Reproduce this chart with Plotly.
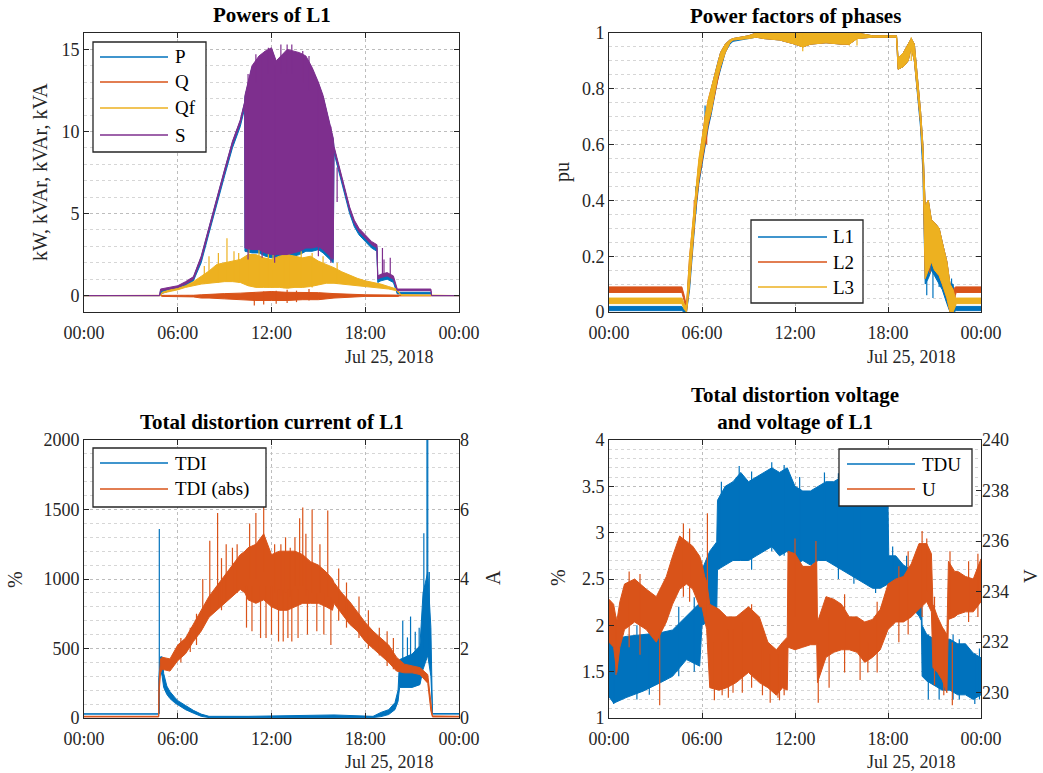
import pandas as pd
import plotly.graph_objects as go

# ---------------- data (hours of Jul 25, 2018; envelopes) -------------
# Panel 1: Powers of L1 (kW, kVAr, kVA)
S_t = [0, 4.84, 4.9, 5.5, 6.0, 6.5, 7.0, 7.5, 8.0, 8.5, 9.0, 9.5, 10.0, 10.28, 10.3, 10.75, 11.2, 11.6, 12.0, 12.3,
       13.0, 13.8, 14.2, 14.6, 15.0, 15.3, 15.6, 15.95, 16.0, 16.4, 16.8, 17.0, 17.3, 17.6, 18.0, 18.4, 18.75, 18.8,
       19.0, 19.4, 19.8, 20.05, 22.2, 22.25, 24]
S_lo = [0, 0, 0.3, 0.4, 0.5, 0.7, 1.0, 2.2, 4.0, 5.8, 7.5, 9.2, 10.5, 11.6, 2.9, 2.8, 2.8, 2.6, 2.5, 2.5,
        2.5, 2.7, 2.9, 2.9, 3.0, 2.8, 2.5, 2.2, 8.9, 7.4, 5.9, 5.2, 4.4, 3.9, 3.5, 3.1, 2.9, 1.0, 1.1, 1.2,
        1.0, 0.3, 0.3, 0, 0]
S_hi = [0, 0, 0.4, 0.5, 0.6, 0.85, 1.15, 2.4, 4.2, 6.0, 7.7, 9.4, 10.7, 11.8, 12.2, 14.0, 14.6, 14.9, 15.1, 14.3,
        15.0, 14.8, 14.6, 13.9, 13.0, 12.2, 11.0, 9.6, 9.1, 7.6, 6.1, 5.4, 4.6, 4.1, 3.7, 3.3, 3.1, 1.2, 1.3, 1.4,
        1.2, 0.4, 0.4, 0, 0]
S_sp_t = [12.6, 13.0, 13.3, 19.1, 19.2, 19.6, 16.2, 11.0, 11.8, 14.0, 14.4, 12.2, 10.5, 11.4, 15.0, 15.8]
S_sp_lo = [13.5, 13.5, 13.5, 1.2, 1.2, 1.2, 5.7, 13.0, 13.5, 13.0, 12.5, 2.0, 2.2, 2.3, 2.4, 2.0]
S_sp_hi = [15.3, 15.3, 15.3, 2.9, 2.2, 2.3, 7.8, 14.7, 15.1, 14.9, 14.6, 14.0, 13.5, 14.7, 13.0, 10.3]

P_lo = [0, 0, 0.1, 0.3, 0.4, 0.6, 0.9, 2.0, 3.8, 5.6, 7.3, 9.0, 10.3, 11.4, 2.7, 2.6, 2.6, 2.4, 2.3, 2.3,
        2.3, 2.5, 2.7, 2.7, 2.8, 2.6, 2.3, 2.0, 8.7, 7.2, 5.7, 5.0, 4.2, 3.7, 3.3, 2.9, 2.7, 0.8, 0.9, 1.0,
        0.8, 0.1, 0.1, 0, 0]
P_hi = [0, 0, 0.3, 0.45, 0.55, 0.8, 1.1, 2.35, 4.15, 5.95, 7.65, 9.35, 10.65, 11.75, 12.1, 13.9, 14.5, 14.8, 15.0, 14.2,
        14.9, 14.7, 14.5, 13.8, 12.9, 12.1, 10.9, 9.5, 9.0, 7.5, 6.0, 5.3, 4.5, 4.0, 3.6, 3.2, 3.0, 1.1, 1.2, 1.3,
        1.1, 0.2, 0.2, 0, 0]

Qf_t = [0, 4.9, 5.0, 5.5, 6.0, 6.5, 7.0, 7.5, 8.0, 8.5, 9.0, 9.5, 10.0, 10.5, 11.0, 11.5, 12.0, 12.5, 13.0, 13.5,
        14.0, 14.5, 15.0, 15.5, 16.0, 16.5, 17.0, 17.5, 18.0, 18.5, 19.0, 19.5, 20.0, 20.2, 20.3, 24]
Qf_lo = [0, 0, 0.15, 0.25, 0.35, 0.5, 0.6, 0.7, 0.75, 0.8, 0.85, 0.85, 0.8, 0.6, 0.5, 0.5, 0.5, 0.5, 0.45, 0.5,
         0.5, 0.55, 0.65, 0.75, 0.75, 0.7, 0.65, 0.6, 0.55, 0.5, 0.45, 0.4, 0.3, 0.1, 0.02, 0]
Qf_hi = [0, 0, 0.2, 0.35, 0.45, 0.6, 0.85, 1.15, 1.5, 1.9, 2.0, 2.1, 2.2, 2.5, 2.5, 2.3, 2.2, 2.4, 2.5, 2.4,
         2.3, 2.4, 2.1, 1.9, 1.7, 1.45, 1.25, 1.05, 0.9, 0.8, 0.7, 0.55, 0.4, 0.15, 0.05, 0]
Qf_sp_t = [8.0, 8.6, 9.15, 9.6, 10.55, 11.2, 11.8, 12.8, 13.1, 13.9, 14.6, 7.7, 9.9, 12.1, 15.3, 16.2]
Qf_sp_lo = [0.8, 0.8, 0.9, 0.9, 0.6, 0.5, 0.5, 0.45, 0.45, 0.5, 0.5, 0.7, 0.8, 0.5, 0.7, 0.7]
Qf_sp_hi = [2.4, 2.6, 3.5, 2.7, 3.3, 2.9, 2.6, 3.0, 2.8, 2.7, 2.6, 1.8, 2.6, 2.7, 2.4, 2.0]

Q_t = [0, 4.9, 5.0, 7.0, 7.5, 8, 9, 10, 11, 12, 13, 14, 15, 16, 17, 18, 20.1, 20.2, 22.2, 22.3, 24]
Q_lo = [0, 0, -0.05, -0.08, -0.15, -0.15, -0.2, -0.25, -0.3, -0.3, -0.3, -0.25, -0.25, -0.15, -0.1, -0.05,
        -0.05, -0.02, -0.02, 0, 0]
Q_hi = [0, 0, 0, 0.02, 0.05, 0.08, 0.12, 0.15, 0.2, 0.25, 0.2, 0.2, 0.18, 0.12, 0.08, 0.05, 0.03, 0.02, 0.02, 0, 0]
Q_sp_t = [10.9, 11.5, 12.3, 13.0, 13.6, 14.4]
Q_sp_lo = [-0.6, -0.55, -0.5, -0.45, -0.4, -0.3]
Q_sp_hi = [0.2, 0.25, 0.3, 0.35, 0.3, 0.4]

# Panel 2: power factors (pu)
PF_t = [0, 4.5, 4.7, 4.85, 5.0, 5.2, 5.4, 5.6, 5.8, 6.0, 6.2, 6.4, 6.6, 6.8, 7.0, 7.2, 7.5, 7.8, 8.0, 9.0,
        9.5, 10.0, 11.0, 12.0, 12.5, 13.0, 14.0, 15.0, 15.5, 16.0, 17.0, 18.0, 18.55, 18.65, 19.0, 19.3, 19.5, 19.7,
        19.9, 20.1, 20.25, 20.4, 20.6, 20.8, 21.0, 21.3, 21.5, 21.8, 22.0, 22.2, 22.35, 22.4, 24]
L1_lo = [0.005, 0.005, 0.005, 0.0, 0.0, 0.08, 0.22, 0.36, 0.46, 0.53, 0.6, 0.66, 0.71, 0.77, 0.83, 0.87, 0.93, 0.96,
         0.97, 0.98, 0.985, 0.98, 0.975, 0.96, 0.95, 0.96, 0.965, 0.96, 0.96, 0.98, 0.985, 0.985, 0.985, 0.87, 0.88,
         0.9, 0.95, 0.9, 0.78, 0.66, 0.5, 0.1, 0.12, 0.15, 0.13, 0.1, 0.08, 0.03, 0.0, 0.0, 0.005, 0.005, 0.005]
L1_hi = [0.02, 0.02, 0.02, 0.01, 0.01, 0.18, 0.3, 0.43, 0.53, 0.6, 0.68, 0.75, 0.8, 0.85, 0.89, 0.93, 0.96, 0.975,
         0.98, 0.99, 1.0, 1.0, 1.0, 1.0, 1.0, 1.0, 1.0, 1.0, 1.0, 1.0, 0.99, 0.99, 0.99, 0.91, 0.93, 0.96, 0.98,
         0.96, 0.85, 0.72, 0.6, 0.38, 0.4, 0.33, 0.32, 0.3, 0.25, 0.18, 0.1, 0.1, 0.02, 0.02, 0.02]
L2_lo = [0.07, 0.07, 0.07, 0.04, 0.0, 0.1, 0.24, 0.37, 0.47, 0.54, 0.61, 0.67, 0.72, 0.77, 0.83, 0.88, 0.93, 0.965,
         0.975, 0.98, 0.985, 0.98, 0.975, 0.96, 0.95, 0.96, 0.965, 0.96, 0.96, 0.98, 0.985, 0.985, 0.985, 0.87, 0.88,
         0.9, 0.95, 0.9, 0.8, 0.68, 0.55, 0.12, 0.15, 0.18, 0.15, 0.13, 0.1, 0.05, 0.0, 0.0, 0.06, 0.07, 0.07]
L2_hi = [0.09, 0.09, 0.09, 0.06, 0.02, 0.2, 0.31, 0.44, 0.54, 0.62, 0.7, 0.76, 0.8, 0.85, 0.89, 0.93, 0.96, 0.975,
         0.98, 0.99, 1.0, 1.0, 1.0, 1.0, 1.0, 1.0, 1.0, 1.0, 1.0, 1.0, 0.99, 0.99, 0.99, 0.91, 0.93, 0.96, 0.98,
         0.96, 0.85, 0.72, 0.6, 0.38, 0.4, 0.33, 0.32, 0.3, 0.25, 0.18, 0.1, 0.08, 0.09, 0.09, 0.09]
L3_lo = [0.03, 0.03, 0.03, 0.01, 0.0, 0.1, 0.25, 0.38, 0.48, 0.55, 0.62, 0.68, 0.72, 0.78, 0.84, 0.88, 0.93, 0.965,
         0.975, 0.98, 0.985, 0.98, 0.975, 0.96, 0.95, 0.96, 0.965, 0.96, 0.96, 0.98, 0.985, 0.985, 0.985, 0.87, 0.88,
         0.9, 0.95, 0.9, 0.8, 0.68, 0.55, 0.12, 0.15, 0.18, 0.15, 0.13, 0.1, 0.05, 0.0, 0.0, 0.02, 0.03, 0.03]
L3_hi = [0.05, 0.05, 0.05, 0.03, 0.02, 0.2, 0.32, 0.45, 0.55, 0.62, 0.7, 0.76, 0.8, 0.85, 0.89, 0.93, 0.96, 0.975,
         0.98, 0.99, 1.0, 1.0, 1.0, 1.0, 1.0, 1.0, 1.0, 1.0, 1.0, 1.0, 0.99, 0.99, 0.99, 0.91, 0.93, 0.96, 0.98,
         0.96, 0.85, 0.72, 0.6, 0.38, 0.4, 0.33, 0.32, 0.3, 0.25, 0.18, 0.1, 0.08, 0.05, 0.05, 0.05]
L1_sp_t = [5.6, 6.2, 20.5, 20.9, 21.3, 22.1]
L1_sp_lo = [0.35, 0.6, 0.06, 0.05, 0.09, 0.0]
L1_sp_hi = [0.45, 0.74, 0.2, 0.15, 0.2, 0.12]
L2_sp_t = [5.5, 6.3, 20.7, 21.4]
L2_sp_lo = [0.3, 0.6, 0.14, 0.12]
L2_sp_hi = [0.4, 0.7, 0.3, 0.25]
L3_sp_t = [12.5, 15.5, 16.0, 19.5]
L3_sp_lo = [0.935, 0.955, 0.955, 0.9]
L3_sp_hi = [1.0, 1.0, 1.0, 0.985]

# Panel 3: total distortion current (% and A)
TDI_t = [0, 4.79, 4.8, 4.9, 5.0, 5.1, 5.3, 5.5, 5.8, 6.0, 6.5, 7.0, 7.5, 8.0, 10.5, 16.0, 18.5, 19.0, 19.5, 19.9,
         20.1, 20.2, 21.0, 21.5, 21.7, 22.0, 22.2, 22.28, 22.3, 24]
TDI_lo = [28, 28, 280, 350, 300, 220, 170, 140, 110, 95, 60, 35, 12, 3, 3, 3, 3, 10, 25, 60,
          120, 220, 220, 240, 350, 450, 300, 100, 28, 28]
TDI_hi = [30, 30, 300, 440, 440, 320, 230, 190, 150, 125, 90, 55, 28, 12, 12, 22, 12, 40, 60, 110,
          200, 420, 460, 520, 900, 1050, 650, 150, 32, 32]
TDI_sp_t = [4.82, 20.4, 20.7, 20.9, 21.2, 21.45, 21.75, 21.95, 22.0, 22.1]
TDI_sp_lo = [30, 300, 280, 280, 300, 350, 500, 700, 600, 500]
TDI_sp_hi = [1360, 700, 580, 730, 620, 650, 1330, 2000, 2000, 1050]

TDA_t = [0, 4.78, 4.8, 4.9, 5.0, 5.5, 6.0, 6.5, 7.0, 7.5, 8.0, 8.5, 9.0, 9.5, 10.0, 10.3, 10.5, 11.0, 11.5, 12.0,
         12.5, 13.0, 13.5, 14.0, 14.5, 15.0, 15.5, 15.9, 16.0, 16.5, 17.0, 17.5, 18.0, 18.5, 19.0, 19.5, 20.0, 20.5,
         21.0, 21.5, 22.0, 22.1, 22.2, 22.3, 24]
TDA_lo = [0.03, 0.03, 0.7, 1.3, 1.4, 1.35, 1.65, 1.85, 2.2, 2.5, 2.9, 3.1, 3.3, 3.5, 3.7, 3.6, 3.4, 3.3, 3.4, 3.2,
          3.1, 3.1, 3.2, 3.3, 3.3, 3.3, 3.2, 3.1, 3.3, 3.0, 2.7, 2.5, 2.2, 2.0, 1.8, 1.6, 1.35, 1.3,
          1.3, 1.25, 1.0, 0.6, 0.2, 0.03, 0.03]
TDA_hi = [0.05, 0.05, 1.0, 1.7, 1.75, 1.7, 2.1, 2.3, 2.7, 3.1, 3.5, 3.8, 4.1, 4.4, 4.7, 4.8, 4.9, 5.0, 5.3, 4.7,
          4.8, 4.8, 4.8, 4.7, 4.5, 4.4, 4.2, 4.0, 3.9, 3.6, 3.35, 3.05, 2.75, 2.5, 2.3, 2.1, 1.75, 1.55,
          1.5, 1.45, 1.25, 0.9, 0.5, 0.06, 0.05]
TDA_sp_t = [7.6, 8.05, 8.55, 9.1, 9.5, 10.6, 11.0, 11.5, 12.2, 12.9, 13.5, 13.8, 14.0, 14.6, 15.1, 15.6,
            10.4, 10.75, 11.3, 11.65, 12.0, 12.45, 12.75, 13.05, 13.3, 13.7, 14.3, 14.9, 15.35, 15.8,
            6.2, 6.8, 7.2, 8.8, 9.8, 12.6, 13.2, 14.2, 16.3, 16.8, 17.6, 18.2, 18.9, 19.4, 19.8]
TDA_sp_lo = [2.6, 3.0, 3.2, 3.4, 3.6, 4.0, 4.0, 4.2, 3.6, 3.6, 3.8, 3.8, 3.8, 3.6, 3.6, 3.5,
             2.6, 2.5, 2.3, 2.3, 2.4, 2.2, 2.2, 2.3, 2.2, 2.3, 2.4, 2.5, 2.4, 2.1,
             1.6, 1.9, 2.1, 3.1, 3.6, 3.5, 3.5, 3.5, 2.8, 2.6, 2.3, 2.0, 1.8, 1.5, 1.4]
TDA_sp_hi = [4.0, 5.1, 5.9, 5.0, 4.9, 5.6, 5.9, 6.3, 5.0, 5.2, 5.2, 5.75, 6.06, 6.0, 5.0, 5.97,
             3.8, 3.8, 3.8, 3.8, 3.8, 3.7, 3.7, 3.7, 3.7, 3.7, 3.7, 3.6, 3.6, 3.5,
             2.3, 2.6, 3.0, 4.6, 5.0, 5.0, 4.9, 5.3, 4.3, 3.9, 3.5, 3.1, 2.6, 2.5, 2.3]

# Panel 4: total distortion voltage (%) and voltage (V)
TDU_t = [0, 0.3, 1.1, 2.2, 3.3, 4.1, 5.0, 5.85, 6.0, 6.5, 6.95, 7.0, 7.5, 8.0, 8.5, 9.0, 9.5, 10.0, 10.5, 11.0,
         11.5, 12.0, 12.5, 13.0, 13.5, 14.0, 14.5, 15.0, 15.5, 16.0, 16.5, 17.0, 17.5, 18.0, 18.05, 18.5, 19.0, 19.5,
         20.0, 20.15, 20.2, 20.5, 21.0, 21.5, 22.0, 22.5, 23.0, 23.5, 24.0]
TDU_lo = [1.23, 1.16, 1.22, 1.29, 1.38, 1.45, 1.63, 1.56, 2.0, 2.05, 2.15, 2.6, 2.65, 2.7, 2.7, 2.7, 2.75, 2.8,
          2.85, 2.75, 2.8, 2.65, 2.7, 2.65, 2.7, 2.7, 2.65, 2.6, 2.55, 2.5, 2.45, 2.4, 2.4, 2.45, 2.45, 2.4, 2.3,
          2.2, 2.1, 2.05, 1.45, 1.4, 1.35, 1.3, 1.3, 1.25, 1.25, 1.2, 1.25]
TDU_hi = [1.83, 1.85, 1.88, 1.9, 1.92, 1.95, 2.1, 2.24, 2.6, 2.8, 2.9, 3.35, 3.5, 3.55, 3.65, 3.55, 3.6, 3.65,
          3.7, 3.65, 3.7, 3.5, 3.45, 3.45, 3.5, 3.55, 3.55, 3.6, 3.55, 3.5, 3.55, 3.45, 3.4, 3.3, 2.75, 2.75, 2.65,
          2.6, 2.5, 2.45, 2.0, 1.9, 1.85, 1.85, 1.85, 1.8, 1.8, 1.7, 1.65]
TDU_sp_t = [0.3, 7.25, 8.4, 10.5, 11.3, 13.9, 16.2, 18.3, 19.8, 20.6, 22.6, 23.6, 23.9,
            1.8, 2.6, 4.5, 5.5, 9.2, 12.3, 14.8, 15.8, 17.2, 19.2, 21.3, 22.2]
TDU_sp_lo = [1.15, 2.7, 2.7, 2.8, 2.75, 2.7, 2.5, 2.4, 2.2, 1.2, 1.2, 1.15, 1.2,
             1.2, 1.25, 1.45, 1.5, 2.6, 2.55, 2.5, 2.45, 2.35, 2.2, 1.2, 1.2]
TDU_sp_hi = [1.85, 3.55, 3.72, 3.76, 3.73, 3.65, 3.68, 2.85, 2.7, 1.9, 1.85, 1.7, 1.75,
             2.0, 2.0, 2.2, 2.3, 3.66, 3.6, 3.64, 3.6, 3.55, 2.75, 1.95, 1.9]

U_t = [0, 0.3, 0.5, 0.7, 1.0, 1.65, 2.4, 3.05, 3.7, 4.1, 4.56, 5.0, 5.4, 5.85, 6.0, 6.17, 6.3, 6.5, 7.1, 7.6,
       8.2, 9.0, 9.7, 10.25, 10.8, 11.2, 11.5, 11.55, 12.0, 12.5, 13.0, 13.4, 13.45, 14.0, 14.5, 15.0, 15.5, 16.0,
       16.5, 17.0, 17.5, 18.0, 18.5, 19.0, 19.5, 20.0, 20.5, 20.8, 20.9, 21.2, 21.5, 21.8, 21.9, 22.3, 22.5, 23.0,
       23.5, 24]
U_lo = [232.0, 231.8, 230.8, 231.8, 232.5, 232.8, 232.5, 232.0, 232.8, 233.5, 234.1, 234.3, 234.1, 233.4, 233.4,
        232.9, 232.5, 230.2, 230.1, 230.2, 230.4, 230.8, 230.4, 230.2, 229.9, 230.2, 230.1, 231.8, 231.7, 231.8,
        231.9, 231.9, 230.4, 231.4, 231.6, 231.7, 231.7, 231.6, 231.2, 231.4, 231.7, 232.5, 232.8, 232.8, 233.0,
        233.3, 233.6, 233.2, 231.0, 230.8, 230.5, 230.0, 232.9, 233.0, 233.1, 233.2, 233.2, 233.6]
U_hi = [233.7, 233.5, 232.8, 233.6, 234.3, 234.5, 234.1, 233.8, 234.6, 235.4, 236.2, 236.0, 235.8, 235.4, 235.1,
        234.6, 234.4, 233.5, 233.3, 233.0, 233.0, 233.4, 233.0, 232.0, 231.7, 232.0, 232.2, 235.6, 235.5, 235.0,
        235.0, 235.2, 232.8, 233.8, 233.7, 233.5, 233.0, 233.0, 232.8, 232.9, 233.3, 234.3, 234.5, 234.6, 235.1,
        235.9, 235.9, 235.5, 233.5, 233.0, 232.6, 232.3, 235.2, 234.8, 234.8, 234.6, 234.5, 235.3]
U_sp_t = [0.45, 3.27, 6.35, 6.8, 7.7, 8.6, 10.4, 11.0, 12.0, 13.35, 13.5, 16.7, 20.5, 22.0, 22.15,
          7.3, 8.0, 9.2, 9.9, 10.9, 11.3, 14.2, 15.2, 16.2, 17.3, 18.7, 19.3, 20.2, 21.0, 21.6, 23.2, 23.8,
          1.3, 2.0, 4.8, 5.2]
U_sp_lo = [230.7, 229.5, 233.0, 229.7, 229.8, 230.0, 229.6, 229.7, 233.0, 233.0, 229.6, 230.8, 234.0, 233.0, 229.5,
           229.9, 230.0, 230.2, 229.9, 229.8, 229.9, 230.2, 230.8, 230.5, 230.8, 232.0, 232.3, 233.0, 230.3, 229.9,
           232.8, 233.0, 231.8, 231.5, 233.8, 233.6]
U_sp_hi = [233.0, 232.5, 237.1, 232.0, 232.5, 232.8, 231.5, 231.0, 236.1, 236.0, 232.0, 232.0, 236.1, 235.6, 232.0,
           232.0, 232.5, 233.5, 232.0, 231.5, 231.8, 233.0, 233.9, 232.5, 233.6, 235.0, 235.6, 236.4, 233.8, 232.5,
           235.2, 235.5, 234.8, 234.7, 236.7, 236.5]

X_TICK_H = [0, 6, 12, 18, 24]
X_TICK_TEXT = ['00:00', '06:00', '12:00', '18:00', '00:00']
DATE_LABEL = 'Jul 25, 2018'

# ---------------- styling -------------
BLUE, ORANGE, YELLOW, PURPLE = '#0072BD', '#D95319', '#EDB120', '#7E2F8E'
FONT = 'Liberation Serif'
AX = '#262626'
GRID = '#bdbdbd'
MINOR = '#d6d6d6'
W, H = 1043, 773
BASE = pd.Timestamp('2018-07-25')


def dt(hs):
    return [(BASE + pd.Timedelta(hours=h)).strftime('%Y-%m-%d %H:%M:%S') for h in hs]


def px(x):
    return x / W


def py(y):
    return 1 - y / H


fig = go.Figure()


def add_band(t, lo, hi, color, xa, ya, sp_t=None, sp_lo=None, sp_hi=None):
    x = dt(t)
    fig.add_trace(go.Scatter(x=x, y=lo, mode='lines', line=dict(color=color, width=1),
                             xaxis=xa, yaxis=ya, showlegend=False, hoverinfo='skip'))
    fig.add_trace(go.Scatter(x=x, y=hi, mode='lines', line=dict(color=color, width=1),
                             fill='tonexty', fillcolor=color,
                             xaxis=xa, yaxis=ya, showlegend=False, hoverinfo='skip'))
    if sp_t:
        xs, ys = [], []
        for tt, a, b in zip(dt(sp_t), sp_lo, sp_hi):
            xs += [tt, tt, None]
            ys += [a, b, None]
        fig.add_trace(go.Scatter(x=xs, y=ys, mode='lines', line=dict(color=color, width=1.2),
                                 xaxis=xa, yaxis=ya, showlegend=False, hoverinfo='skip'))


# panel 1
add_band(S_t, P_lo, P_hi, BLUE, 'x', 'y')
add_band(Q_t, Q_lo, Q_hi, ORANGE, 'x', 'y', Q_sp_t, Q_sp_lo, Q_sp_hi)
add_band(Qf_t, Qf_lo, Qf_hi, YELLOW, 'x', 'y', Qf_sp_t, Qf_sp_lo, Qf_sp_hi)
add_band(S_t, S_lo, S_hi, PURPLE, 'x', 'y', S_sp_t, S_sp_lo, S_sp_hi)
# panel 2
add_band(PF_t, L1_lo, L1_hi, BLUE, 'x2', 'y2', L1_sp_t, L1_sp_lo, L1_sp_hi)
add_band(PF_t, L2_lo, L2_hi, ORANGE, 'x2', 'y2', L2_sp_t, L2_sp_lo, L2_sp_hi)
add_band(PF_t, L3_lo, L3_hi, YELLOW, 'x2', 'y2', L3_sp_t, L3_sp_lo, L3_sp_hi)
# panel 3
add_band(TDI_t, TDI_lo, TDI_hi, BLUE, 'x3', 'y3', TDI_sp_t, TDI_sp_lo, TDI_sp_hi)
add_band(TDA_t, TDA_lo, TDA_hi, ORANGE, 'x3', 'y5', TDA_sp_t, TDA_sp_lo, TDA_sp_hi)
# panel 4
add_band(TDU_t, TDU_lo, TDU_hi, BLUE, 'x4', 'y4', TDU_sp_t, TDU_sp_lo, TDU_sp_hi)
add_band(U_t, U_lo, U_hi, ORANGE, 'x4', 'y6', U_sp_t, U_sp_lo, U_sp_hi)

# ---------------- axes -------------
DX_L = [px(84), px(459)]
DX_R = [px(609), px(981)]
DY_T = [py(312), py(33)]
DY_B = [py(718), py(440)]
tickfont = dict(family=FONT, size=18, color=AX)


def xaxis(domain, anchor):
    return dict(domain=domain, anchor=anchor, type='date', range=dt([0, 24]),
                tickmode='array', tickvals=dt(X_TICK_H), ticktext=X_TICK_TEXT,
                ticks='inside', ticklen=5, tickcolor=AX, showline=True, linecolor=AX, linewidth=1,
                mirror='ticks', showgrid=True, gridcolor=GRID, griddash='dot', gridwidth=1,
                zeroline=False, tickfont=tickfont, ticklabelstandoff=4, automargin=False, fixedrange=True)


def yaxis(domain, anchor, rng, dtick, minor, mirror='ticks', tick0=0):
    return dict(domain=domain, anchor=anchor, range=rng, dtick=dtick, tick0=tick0,
                ticks='inside', ticklen=5, tickcolor=AX, showline=True, linecolor=AX, linewidth=1,
                mirror=mirror, showgrid=True, gridcolor=GRID, griddash='dot', gridwidth=1,
                minor=dict(dtick=minor, tick0=tick0, showgrid=True, gridcolor=MINOR, griddash='dot', gridwidth=1),
                zeroline=False, tickfont=tickfont, automargin=False, fixedrange=True)


fig.update_layout(
    width=W, height=H, margin=dict(l=0, r=0, t=0, b=0),
    paper_bgcolor='white', plot_bgcolor='white', showlegend=False,
    xaxis=xaxis(DX_L, 'y'), yaxis=yaxis(DY_T, 'x', [-1, 16], 5, 1),
    xaxis2=xaxis(DX_R, 'y2'), yaxis2=yaxis(DY_T, 'x2', [0, 1], 0.2, 0.05),
    xaxis3=xaxis(DX_L, 'y3'), yaxis3=yaxis(DY_B, 'x3', [0, 2000], 500, 100, mirror=True),
    xaxis4=xaxis(DX_R, 'y4'), yaxis4=yaxis(DY_B, 'x4', [1, 4], 0.5, 0.1, mirror=True),
    yaxis5=dict(overlaying='y3', anchor='x3', side='right', range=[0, 8], dtick=2, tick0=0,
                ticks='inside', ticklen=5, tickcolor=AX, showline=False, showgrid=False, zeroline=False,
                tickfont=tickfont, automargin=False, fixedrange=True),
    yaxis6=dict(overlaying='y4', anchor='x4', side='right', range=[229, 240], dtick=2, tick0=230,
                ticks='inside', ticklen=5, tickcolor=AX, showline=False, showgrid=False, zeroline=False,
                tickfont=tickfont, automargin=False, fixedrange=True),
)

# ---------------- text -------------
ann = []


def text(x, y, s, size=19, bold=False, angle=0, xanchor='center', color=AX):
    ann.append(dict(x=px(x), y=py(y), xref='paper', yref='paper', text=('<b>%s</b>' % s) if bold else s,
                    showarrow=False, xanchor=xanchor, yanchor='middle', textangle=angle,
                    font=dict(family=FONT, size=size, color=color)))


text(272, 15, 'Powers of L1', 21, True, color='#000')
text(795, 16, 'Power factors of phases', 21, True, color='#000')
text(272, 422, 'Total distortion current of L1', 21, True, color='#000')
text(795, 408, 'Total distortion voltage<br>and voltage of L1', 21, True, color='#000')

text(40, 172, 'kW, kVAr, kVAr, kVA', 20, angle=-90)
text(563, 172, 'pu', 20, angle=-90)
text(15, 580, '%', 20, angle=-90)
text(493, 578, 'A', 20, angle=-90)
text(558, 578, '%', 20, angle=-90)
text(1030, 576, 'V', 19, angle=-90)

for cx, cy in [(389, 357), (911, 357), (389, 762), (911, 762)]:
    text(cx, cy, DATE_LABEL, 18)

# ---------------- legends (drawn boxes) -------------
shapes = []


def legend(box, x0, x1, tx, rows):
    bx0, by0, bx1, by1 = box
    shapes.append(dict(type='rect', xref='paper', yref='paper', x0=px(bx0), x1=px(bx1), y0=py(by1), y1=py(by0),
                       fillcolor='white', line=dict(color=AX, width=1.3), layer='above'))
    for yy, name, col in rows:
        shapes.append(dict(type='line', xref='paper', yref='paper', x0=px(x0), x1=px(x1), y0=py(yy), y1=py(yy),
                           line=dict(color=col, width=1.5), layer='above'))
        text(tx, yy, name, 19, xanchor='left', color='#000')


legend((93, 42, 206, 152), 100, 168, 173, [(57, 'P', BLUE), (82, 'Q', ORANGE), (108, 'Qf', YELLOW), (135, 'S', PURPLE)])
legend((751, 220, 863, 303), 758, 827, 831, [(237, 'L1', BLUE), (262, 'L2', ORANGE), (287, 'L3', YELLOW)])
legend((93, 448, 266, 507), 100, 168, 173, [(463, 'TDI', BLUE), (489, 'TDI (abs)', ORANGE)])
legend((839, 449, 972, 506), 847, 915, 920, [(464, 'TDU', BLUE), (489, 'U', ORANGE)])

fig.update_layout(annotations=ann, shapes=shapes)
fig.write_html('out.html')
